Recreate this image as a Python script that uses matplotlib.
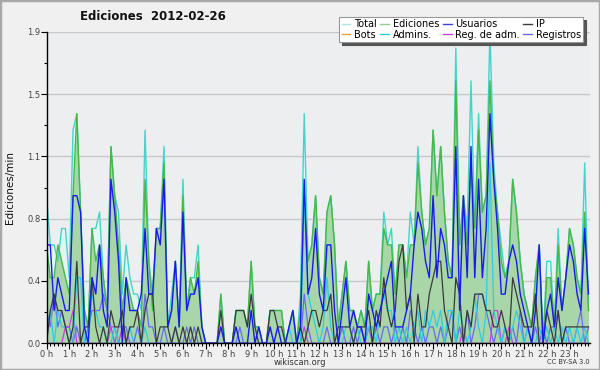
import numpy as np
import matplotlib
matplotlib.use("Agg")
import matplotlib.pyplot as plt
from matplotlib.patches import Rectangle
from matplotlib.lines import Line2D

# counts per 10-minute slot (edits / 10 min); plotted as edits per minute
total = [9, 6, 6, 5, 7, 7,  4, 13, 14, 8, 2, 1,  7, 7, 8, 4, 2, 12,  9, 8, 3, 6, 4, 3,
         3, 2, 13, 5, 3, 7,  7, 12, 1, 3, 5, 1,  10, 2, 4, 4, 6, 1,  0, 0, 0, 0, 3, 0,
         0, 0, 2, 2, 2, 1,  5, 1, 1, 0, 0, 2,  2, 2, 2, 0, 1, 2,  0, 3, 14, 5, 6, 9,
         4, 3, 8, 9, 6, 1,  3, 5, 2, 2, 1, 2,  1, 5, 2, 3, 3, 8,  6, 7, 3, 6, 6, 4,
         8, 6, 12, 8, 6, 7,  13, 9, 12, 8, 5, 4,  18, 6, 9, 7, 16, 7,  14, 8, 9, 19, 11, 8,
         6, 4, 5, 10, 8, 5,  3, 2, 1, 4, 6, 0,  5, 5, 1, 7, 2, 4,  7, 6, 4, 3, 11, 2]
ediciones = [6, 4, 4, 6, 5, 4,  3, 9, 14, 8, 2, 1,  7, 5, 6, 4, 2, 12,  9, 6, 2, 4, 3, 2,
             2, 1, 10, 5, 2, 7,  7, 11, 1, 2, 5, 1,  9, 2, 4, 3, 5, 1,  0, 0, 0, 0, 3, 0,
             0, 0, 2, 2, 2, 1,  5, 1, 1, 0, 0, 2,  2, 2, 2, 0, 1, 2,  0, 2, 9, 5, 6, 9,
             4, 3, 8, 9, 6, 1,  3, 5, 2, 2, 1, 2,  1, 5, 2, 3, 3, 7,  6, 6, 3, 6, 6, 4,
             6, 6, 11, 8, 6, 7,  13, 9, 12, 8, 5, 4,  16, 6, 9, 6, 11, 7,  13, 8, 9, 16, 10, 8,
             5, 4, 5, 10, 8, 5,  3, 2, 1, 4, 6, 0,  4, 4, 1, 6, 2, 4,  7, 6, 4, 3, 8, 2]
usuarios = [6, 6, 2, 4, 3, 2,  2, 9, 9, 8, 1, 0,  4, 3, 6, 2, 1, 10,  8, 5, 0, 4, 2, 2,
            2, 3, 7, 3, 3, 7,  6, 10, 1, 2, 5, 1,  8, 2, 3, 3, 4, 1,  0, 0, 0, 0, 1, 0,
            0, 0, 1, 0, 0, 0,  2, 0, 1, 0, 0, 1,  0, 1, 0, 0, 1, 2,  0, 1, 10, 3, 4, 7,
            3, 2, 6, 6, 2, 0,  2, 4, 1, 2, 1, 1,  0, 3, 2, 1, 2, 3,  4, 5, 1, 1, 1, 2,
            3, 6, 8, 7, 5, 4,  9, 4, 7, 6, 4, 4,  12, 2, 9, 4, 12, 4,  10, 4, 7, 14, 10, 7,
            3, 3, 5, 6, 5, 3,  2, 1, 0, 2, 6, 0,  2, 3, 1, 4, 2, 4,  6, 5, 3, 2, 7, 3]
ip = [0, 2, 3, 2, 2, 1,  0, 1, 5, 0, 1, 1,  4, 1, 0, 1, 0, 2,  1, 1, 2, 0, 1, 1,
      2, 0, 2, 3, 3, 0,  1, 1, 1, 0, 1, 0,  1, 0, 1, 0, 1, 0,  0, 0, 0, 0, 2, 0,
      0, 0, 2, 2, 2, 1,  3, 1, 0, 0, 0, 2,  2, 1, 1, 0, 0, 0,  0, 1, 0, 1, 2, 2,
      1, 2, 2, 3, 0, 1,  1, 1, 1, 0, 1, 1,  1, 2, 0, 2, 1, 4,  2, 1, 2, 5, 6, 2,
      3, 0, 3, 1, 1, 3,  4, 5, 5, 2, 1, 0,  4, 3, 0, 2, 1, 3,  3, 3, 2, 2, 1, 1,
      2, 1, 0, 4, 3, 2,  1, 1, 1, 3, 0, 0,  2, 1, 0, 2, 0, 1,  1, 1, 1, 1, 1, 1]
bots = [0] * 144
admins = [0, 2, 0, 2, 1, 1,  0, 0, 4, 4, 0, 0,  3, 2, 1, 1, 0, 0,  1, 0, 0, 0, 1, 0,
          0, 0, 1, 0, 0, 0,  0, 0, 0, 0, 0, 0,  0, 0, 0, 0, 0, 0,  0, 0, 0, 0, 0, 0,
          0, 0, 0, 0, 0, 0,  0, 0, 0, 0, 0, 0,  0, 0, 0, 0, 1, 0,  0, 0, 9, 3, 2, 1,
          0, 1, 4, 1, 0, 0,  0, 1, 1, 0, 1, 0,  0, 1, 1, 0, 2, 3,  2, 2, 0, 1, 0, 1,
          0, 1, 2, 0, 2, 1,  2, 1, 2, 0, 2, 2,  0, 2, 1, 0, 1, 3,  1, 0, 2, 11, 2, 1,
          0, 1, 0, 1, 2, 1,  0, 1, 0, 0, 1, 0,  1, 0, 1, 0, 1, 0,  1, 0, 1, 0, 1, 0]
reg_adm = [0, 0, 0, 0, 0, 1,  1, 2, 0, 0, 0, 0,  0, 0, 0, 0, 0, 1,  1, 0, 1, 0, 0, 0,
           0, 0, 0, 0, 0, 0,  0, 0, 0, 0, 0, 0,  0, 0, 0, 0, 0, 0,  0, 0, 0, 0, 0, 0,
           0, 0, 0, 0, 0, 0,  0, 0, 0, 0, 0, 0,  0, 0, 0, 0, 0, 0,  0, 0, 1, 0, 0, 0,
           0, 0, 0, 0, 0, 0,  0, 0, 0, 0, 0, 0,  0, 0, 0, 0, 0, 0,  0, 0, 0, 0, 0, 0,
           0, 0, 0, 0, 0, 0,  0, 0, 0, 0, 0, 0,  0, 0, 1, 0, 0, 0,  0, 0, 0, 0, 2, 2,
           0, 0, 1, 0, 0, 0,  0, 0, 0, 0, 0, 0,  0, 0, 0, 0, 0, 0,  0, 0, 0, 0, 0, 0]
registros = [2, 1, 3, 1, 2, 1,  1, 0, 1, 0, 0, 1,  2, 2, 2, 3, 2, 1,  0, 1, 1, 1, 0, 0,
             1, 0, 3, 1, 1, 0,  0, 1, 0, 0, 1, 0,  0, 1, 0, 1, 0, 0,  0, 0, 0, 0, 0, 0,
             0, 0, 0, 1, 0, 0,  0, 0, 0, 0, 0, 0,  0, 0, 0, 0, 0, 0,  0, 0, 3, 1, 0, 0,
             0, 0, 1, 0, 0, 0,  1, 0, 0, 1, 0, 1,  0, 1, 0, 1, 0, 1,  1, 0, 1, 0, 1, 0,
             2, 1, 0, 1, 0, 1,  1, 0, 1, 0, 1, 2,  0, 1, 0, 2, 0, 1,  3, 3, 2, 1, 0, 1,
             0, 1, 0, 1, 0, 2,  0, 1, 0, 1, 0, 1,  0, 1, 1, 2, 0, 1,  0, 0, 1, 2, 0, 1]

hour_labels = [f"{h} h" for h in range(24)]
ytick_vals = [0, 0.38, 0.76, 1.14, 1.52, 1.9]
ytick_labels = ["0.0", "0.4", "0.8", "1.1", "1.5", "1.9"]

x = np.arange(len(total)) / 6.0
def rate(a):
    return np.array(a) / 10.0

fig = plt.figure(figsize=(6, 3.7), dpi=100, facecolor="#f0f0f0")
fig.patches.append(Rectangle((0, 0), 1, 1, transform=fig.transFigure, fill=False,
                             edgecolor="#a8a8a8", linewidth=2.5, zorder=10))
ax = fig.add_axes([46.5 / 600, 1 - 343.3 / 370, 543.5 / 600, 311.6 / 370])
ax.set_facecolor("#edeef0")

c_total_fill = "#e0f6f2"
c_total = "#44d4c8"
c_ed_fill = "#a8d6a8"
c_ed = "#48b848"
c_user = "#1a1aea"
c_ip = "#3a3a3a"
c_bot = "#f0a030"
c_adm = "#30cce0"
c_regadm = "#c840e0"
c_reg = "#6a6af2"

ax.fill_between(x, 0, rate(total), color=c_total_fill, lw=0, zorder=1)
ax.fill_between(x, 0, rate(ediciones), color=c_ed_fill, lw=0, zorder=2)
ax.plot(x, rate(total), color=c_total, lw=1.0, zorder=3)
ax.plot(x, rate(ediciones), color=c_ed, lw=1.0, zorder=4)
ax.plot(x, rate(registros), color=c_reg, lw=0.9, zorder=5)
ax.plot(x, rate(reg_adm), color=c_regadm, lw=0.9, zorder=5)
ax.plot(x, rate(admins), color=c_adm, lw=0.9, zorder=6)
ax.plot(x, rate(ip), color=c_ip, lw=0.9, zorder=6)
ax.plot(x, rate(usuarios), color=c_user, lw=1.0, zorder=7)

ax.set_xlim(0, 23.9)
ax.set_ylim(0, 1.9)
ax.set_xticks(range(24))
ax.set_xticklabels(hour_labels)
ax.set_xticks(np.arange(0, 23.9, 1 / 6), minor=True)
ax.set_yticks(ytick_vals)
ax.set_yticklabels(ytick_labels)
ax.set_yticks([0.19, 0.57, 0.95, 1.33, 1.71], minor=True)
ax.tick_params(axis="both", which="major", length=4, width=0.8, labelsize=6,
               labelcolor="#444444", pad=0.5)
ax.tick_params(axis="both", which="minor", length=2.5, width=0.8)
for s in ["top", "right"]:
    ax.spines[s].set_visible(False)
for s in ["left", "bottom"]:
    ax.spines[s].set_linewidth(1.0)
    ax.spines[s].set_zorder(10)
ax.grid(axis="y", color="#c8c8c8", lw=1.0, zorder=0)
ax.set_axisbelow(True)

fig.text(153 / 600, 1 - 17 / 370, "Ediciones  2012-02-26", ha="center", va="center",
         fontsize=8.5, fontweight="bold", color="#111111")
fig.text(10 / 600, 1 - 188 / 370, "Ediciones/min", rotation=90, ha="center", va="center",
         fontsize=7.5, color="#111111")
fig.text(300 / 600, 1 - 362.5 / 370, "wikiscan.org", ha="center", va="center",
         fontsize=6, color="#333333")
fig.text(590 / 600, 1 - 362.5 / 370, "CC BY-SA 3.0", ha="right", va="center",
         fontsize=4.8, color="#333333")

handles = [
    Line2D([], [], color="#a8e8e0", lw=1), Line2D([], [], color=c_bot, lw=1),
    Line2D([], [], color="#90d090", lw=1), Line2D([], [], color=c_adm, lw=1),
    Line2D([], [], color="#4040e0", lw=1), Line2D([], [], color=c_regadm, lw=1),
    Line2D([], [], color=c_ip, lw=1), Line2D([], [], color=c_reg, lw=1),
]
labels = ["Total", "Bots", "Ediciones", "Admins.", "Usuarios", "Reg. de adm.", "IP", "Registros"]
leg = fig.legend(handles, labels, ncol=4, loc="upper right",
                 bbox_to_anchor=(588 / 600, 1 - 12 / 370), fontsize=7,
                 handlelength=0.9, handletextpad=0.35, columnspacing=0.4,
                 labelspacing=0.05, borderpad=0.25, fancybox=False,
                 shadow={"color": "#555555", "alpha": 1.0}, framealpha=1.0)
leg.get_frame().set_edgecolor("#999999")
leg.get_frame().set_linewidth(0.8)

fig.savefig("out.png", dpi=100, facecolor=fig.get_facecolor())
